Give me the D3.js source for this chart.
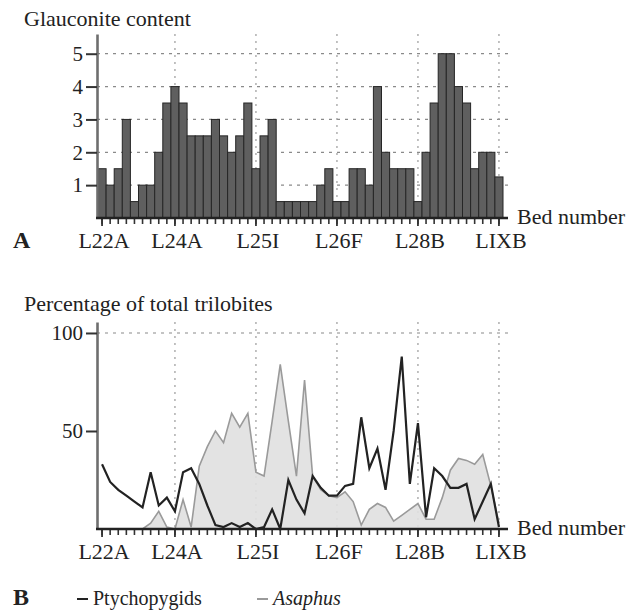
<!DOCTYPE html>
<html>
<head>
<meta charset="utf-8">
<script src="https://cdn.jsdelivr.net/npm/d3@7"></script>
<style>
body{margin:0;background:#fff;}
</style>
</head>
<body>
<svg id="chart" width="637" height="611"></svg>
<script>
// labelled beds and the bed index they sit under
var tickBeds = ['L22A','L24A','L25I','L26F','L28B','LIXB'];
var tickIdx  = [0,9,19,29,39,49];

// A: glauconite content, one value per bed
var glauconite = [1.5,1,1.5,3,0.5,1,1,2,3.5,4,
                  3.5,2.5,2.5,2.5,3,2.5,2,2.5,3.5,1.5,
                  2.5,3,0.5,0.5,0.5,0.5,0.5,1,1.5,0.5,
                  0.5,1.5,1.5,1,4,2,1.5,1.5,1.5,0.5,
                  2,3.5,5,5,4,3.5,1.5,2,2,1.25];
var glauTicks = [1,2,3,4,5];

// B: percentage of total trilobites
var ptychopygids = [33,24,20,17,14,11,29,12,16,9,
                    29,31,23,12,2,1,3,1,3,0,
                    1,10,0,25,15,8,27,21,17,17,
                    22,23,57,31,41,20,50,88,23,54,
                    6,31,27,21,21,23,5,14,23,1];
var asaphus = [0,0,0,0,0,0,3,9,1,0,
               15,1,32,42,50,44,59,52,59,29,
               27,55,84,55,27,76,27,20,17,16,
               19,14,2,10,13,11,4,7,10,13,
               5,5,16,30,36,35,33,38,22,3];
var pctTicks = [50,100];

var FONT = "'Liberation Serif','Times New Roman','DejaVu Serif',serif";

var svg = d3.select('#chart');
var beds = d3.range(glauconite.length);

var x = d3.scaleBand().domain(beds).range([98, 503]).padding(0);
function cx(i) { return x(i) + x.bandwidth()/2; }

var xLeft = x.range()[0]-1, xRight = x.range()[1]+5;

function label(px, py, size, txt) {
  return svg.append('text').attr('x', px).attr('y', py)
    .attr('font-family', FONT).attr('font-size', size)
    .attr('fill', '#222').text(txt);
}

function grid(g, y, hv, top) {
  // horizontal dashed lines
  g.selectAll('line.h').data(hv).enter().append('line')
    .attr('x1', xLeft).attr('x2', xRight)
    .attr('y1', function(d){ return y(d); })
    .attr('y2', function(d){ return y(d); })
    .attr('stroke', '#8a8a8a').attr('stroke-width', 1.2)
    .attr('stroke-dasharray', '3,5');
  // vertical dotted lines at labelled beds
  g.selectAll('line.v').data(tickIdx.slice(1)).enter().append('line')
    .attr('x1', function(d){ return cx(d); })
    .attr('x2', function(d){ return cx(d); })
    .attr('y1', y(top)).attr('y2', y(0))
    .attr('stroke', '#9a9a9a').attr('stroke-width', 1.2)
    .attr('stroke-dasharray', '2,5');
}

function axes(y, yTicks, letter, labelY, letterY) {
  var base = y(0);
  // y axis
  var ya = svg.append('g')
    .attr('transform', 'translate(' + (xLeft) + ',0)')
    .call(d3.axisLeft(y).tickValues(yTicks).tickSize(11).tickSizeOuter(0)
      .tickPadding(3).tickFormat(d3.format('d')));
  ya.attr('font-family', FONT).attr('font-size', 21);
  ya.select('.domain').attr('stroke', '#6e6e6e').attr('stroke-width', 2.6);
  ya.selectAll('.tick line').attr('stroke', '#333').attr('stroke-width', 2);
  ya.selectAll('.tick text').attr('fill', '#222');

  // small ticks at every bed
  var xa = svg.append('g')
    .attr('transform', 'translate(0,' + base + ')')
    .call(d3.axisBottom(x).tickValues(beds).tickSize(6).tickSizeOuter(0).tickFormat(''));
  xa.select('.domain').remove();
  xa.selectAll('.tick line').attr('stroke', '#333').attr('stroke-width', 1.6);

  // labelled ticks
  var xl = svg.append('g')
    .attr('transform', 'translate(0,' + base + ')')
    .call(d3.axisBottom(x).tickValues(tickIdx).tickSize(8).tickSizeOuter(0)
      .tickFormat(function(d,i){ return tickBeds[i]; }));
  xl.attr('font-family', FONT).attr('font-size', 22);
  xl.select('.domain').remove();
  xl.selectAll('.tick line').attr('stroke', '#333').attr('stroke-width', 1.8);
  xl.selectAll('.tick text').attr('dy', null)
    .attr('x', 2)
    .attr('y', labelY - base).attr('fill', '#222');

  svg.append('line')
    .attr('x1', xLeft-1).attr('x2', xRight)
    .attr('y1', base).attr('y2', base)
    .attr('stroke', '#222').attr('stroke-width', 2.4);

  label(xRight+9, base+6, 22, 'Bed number');
  label(13, letterY, 24, letter).attr('font-weight', 'bold');
}

/* ---------- A: glauconite ---------- */
var yA = d3.scaleLinear().domain([0, 5.6]).range([218, 34]);

label(24, 26, 22, 'Glauconite content');

grid(svg.append('g'), yA, glauTicks, 5.6);

svg.append('g').selectAll('rect')
  .data(glauconite)
  .enter()
  .append('rect')
  .attr('x', function(d,i){ return x(i); })
  .attr('width', x.bandwidth())
  .attr('y', function(d){ return yA(d); })
  .attr('height', function(d){ return yA(0) - yA(d); })
  .attr('fill', '#5f5f5f')
  .attr('stroke', '#262626')
  .attr('stroke-width', 1);

axes(yA, glauTicks, 'A', 248, 248);

/* ---------- B: trilobites ---------- */
var yB = d3.scaleLinear().domain([0, 105.6]).range([529, 322]);

label(24, 311, 22, 'Percentage of total trilobites');

grid(svg.append('g'), yB, [100], 105.6);

var area = d3.area()
  .x(function(d,i){ return cx(i); })
  .y0(yB(0))
  .y1(function(d){ return yB(d); });
var line = d3.line()
  .x(function(d,i){ return cx(i); })
  .y(function(d){ return yB(d); });

svg.append('path').datum(asaphus)
  .attr('d', area)
  .attr('fill', '#e0e0e0').attr('fill-opacity', 0.9);
svg.append('path').datum(asaphus)
  .attr('d', line)
  .attr('fill', 'none').attr('stroke', '#9a9a9a').attr('stroke-width', 1.6);
svg.append('path').datum(ptychopygids)
  .attr('d', line)
  .attr('fill', 'none').attr('stroke', '#222').attr('stroke-width', 2.2);

axes(yB, pctTicks, 'B', 559, 605);

// legend
var legend = [
  {name:'Ptychopygids', color:'#222', italic:false, x:77},
  {name:'Asaphus', color:'#9a9a9a', italic:true, x:257}
];
var lg = svg.append('g').selectAll('g').data(legend).enter().append('g');
lg.append('line')
  .attr('x1', function(d){ return d.x; })
  .attr('x2', function(d){ return d.x+11; })
  .attr('y1', 599).attr('y2', 599)
  .attr('stroke', function(d){ return d.color; }).attr('stroke-width', 2);
lg.append('text')
  .attr('x', function(d){ return d.x+16; })
  .attr('y', 605)
  .attr('font-family', FONT).attr('font-size', 20)
  .attr('fill', '#222')
  .attr('font-style', function(d){ return d.italic ? 'italic' : 'normal'; })
  .text(function(d){ return d.name; });
</script>
</body>
</html>
